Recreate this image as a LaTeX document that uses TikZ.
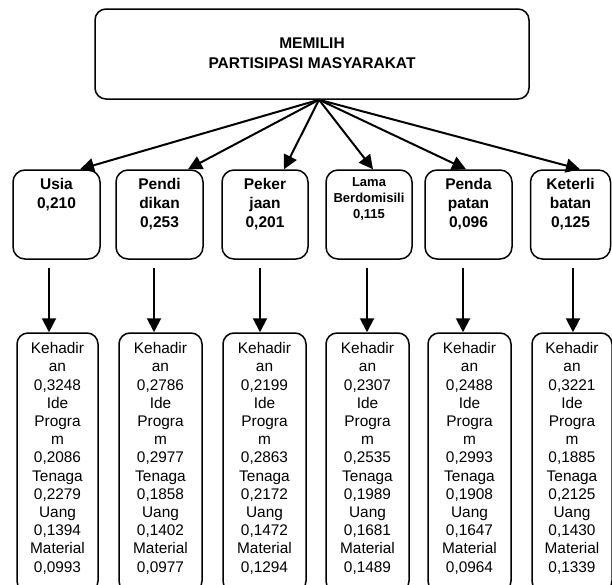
\documentclass[tikz,border=0pt]{standalone}
\usepackage{fontspec}
\setmainfont{Liberation Sans}
\usetikzlibrary{arrows.meta,calc}
\begin{document}
\begin{tikzpicture}[x=1pt,y=-1pt,
  topbox/.style={draw, line width=1.5pt, rounded corners=11pt, minimum width=434pt, minimum height=90pt, inner sep=0pt},
  midbox/.style={draw, line width=1.5pt, rounded corners=12pt, minimum height=89pt, inner sep=0pt},
  botbox/.style={draw, line width=1.5pt, rounded corners=11pt, minimum height=259pt, inner sep=0pt},
  toptext/.style={font=\bfseries\fontsize{15.5}{20}\selectfont, align=center, inner sep=0pt},
  midtext/.style={anchor=north, font=\bfseries\fontsize{15.5}{19}\selectfont, align=center, inner sep=0pt},
  smalltext/.style={anchor=north, font=\bfseries\fontsize{13}{16}\selectfont, align=center, inner sep=0pt},
  bottext/.style={anchor=north, font=\fontsize{15.4}{18.2}\selectfont, align=center, inner sep=0pt},
  arr/.style={line width=2pt, -{Triangle[length=14pt,width=14pt]}}
]
\useasboundingbox (0,0) rectangle (612,584);
\clip (0,0) rectangle (612,584);

% top
\node[topbox] (top) at (312,54) {};
\node[toptext] (toptxt) at (312,53.5) {MEMILIH\\PARTISIPASI MASYARAKAT};

% middle row
\node[midbox, minimum width=87pt] (usia) at (56.5,214.5) {};
\node[midbox, minimum width=87pt] (pendi) at (159.5,214.5) {};
\node[midbox, minimum width=86pt] (peker) at (265,214.5) {};
\node[midbox, minimum width=86pt] (lama) at (369,214.5) {};
\node[midbox, minimum width=87pt] (penda) at (468.5,214.5) {};
\node[midbox, minimum width=80pt] (keter) at (570.5,214.5) {};

\node[midtext] (usiat) at ([yshift=-9pt]usia.north) {Usia\\0,210};
\node[midtext] (pendit) at ([yshift=-9pt]pendi.north) {Pendi\\dikan\\0,253};
\node[midtext] (pekert) at ([yshift=-9pt]peker.north) {Peker\\jaan\\0,201};
\node[smalltext] (lamat) at ([yshift=-8pt]lama.north) {Lama\\Berdomisili\\0,115};
\node[midtext] (pendat) at ([yshift=-9pt]penda.north) {Penda\\patan\\0,096};
\node[midtext] (ketert) at ([yshift=-9pt]keter.north) {Keterli\\batan\\0,125};

% bottom row
\node[botbox, minimum width=81pt] (usiab) at (57.5,462.5) {};
\node[botbox, minimum width=83pt] (pendib) at (160.5,462.5) {};
\node[botbox, minimum width=83pt] (pekerb) at (264.5,462.5) {};
\node[botbox, minimum width=83pt] (lamab) at (367.5,462.5) {};
\node[botbox, minimum width=83pt] (pendab) at (469.5,462.5) {};
\node[botbox, minimum width=80pt] (keterb) at (572,462.5) {};

\node[bottext] (usiabt) at ([yshift=-10pt]usiab.north) {Kehadir\\an\\0,3248\\Ide\\Progra\\m\\0,2086\\Tenaga\\0,2279\\Uang\\0,1394\\Material\\0,0993};
\node[bottext] (pendibt) at ([yshift=-10pt]pendib.north) {Kehadir\\an\\0,2786\\Ide\\Progra\\m\\0,2977\\Tenaga\\0,1858\\Uang\\0,1402\\Material\\0,0977};
\node[bottext] (pekerbt) at ([yshift=-10pt]pekerb.north) {Kehadir\\an\\0,2199\\Ide\\Progra\\m\\0,2863\\Tenaga\\0,2172\\Uang\\0,1472\\Material\\0,1294};
\node[bottext] (lamabt) at ([yshift=-10pt]lamab.north) {Kehadir\\an\\0,2307\\Ide\\Progra\\m\\0,2535\\Tenaga\\0,1989\\Uang\\0,1681\\Material\\0,1489};
\node[bottext] (pendabt) at ([yshift=-10pt]pendab.north) {Kehadir\\an\\0,2488\\Ide\\Progra\\m\\0,2993\\Tenaga\\0,1908\\Uang\\0,1647\\Material\\0,0964};
\node[bottext] (keterbt) at ([yshift=-10pt]keterb.north) {Kehadir\\an\\0,3221\\Ide\\Progra\\m\\0,1885\\Tenaga\\0,2125\\Uang\\0,1430\\Material\\0,1339};

% diagonal arrows
\coordinate (hub) at ([xshift=7pt]top.south);
\draw[arr] (hub) -- ([xshift=23.5pt]usia.north);
\draw[arr] (hub) -- ([xshift=28.5pt]pendi.north);
\draw[arr] (hub) -- ([xshift=19pt]peker.north);
\draw[arr] (hub) -- ([xshift=4pt]lama.north);
\draw[arr] (hub) -- ([xshift=-2.5pt]penda.north);
\draw[arr] (hub) -- ([xshift=9.5pt]keter.north);

% vertical arrows
\draw[arr] ([xshift=-7.5pt,yshift=-8pt]usia.south) -- ([xshift=-7.5pt]usia.south |- usiab.north);
\draw[arr] ([xshift=-5.5pt,yshift=-8pt]pendi.south) -- ([xshift=-5.5pt]pendi.south |- pendib.north);
\draw[arr] ([xshift=-5pt,yshift=-8pt]peker.south) -- ([xshift=-5pt]peker.south |- pekerb.north);
\draw[arr] ([xshift=-2pt,yshift=-8pt]lama.south) -- ([xshift=-2pt]lama.south |- lamab.north);
\draw[arr] ([xshift=-5.5pt,yshift=-8pt]penda.south) -- ([xshift=-5.5pt]penda.south |- pendab.north);
\draw[arr] ([xshift=2.5pt,yshift=-8pt]keter.south) -- ([xshift=2.5pt]keter.south |- keterb.north);
\end{tikzpicture}
\end{document}
